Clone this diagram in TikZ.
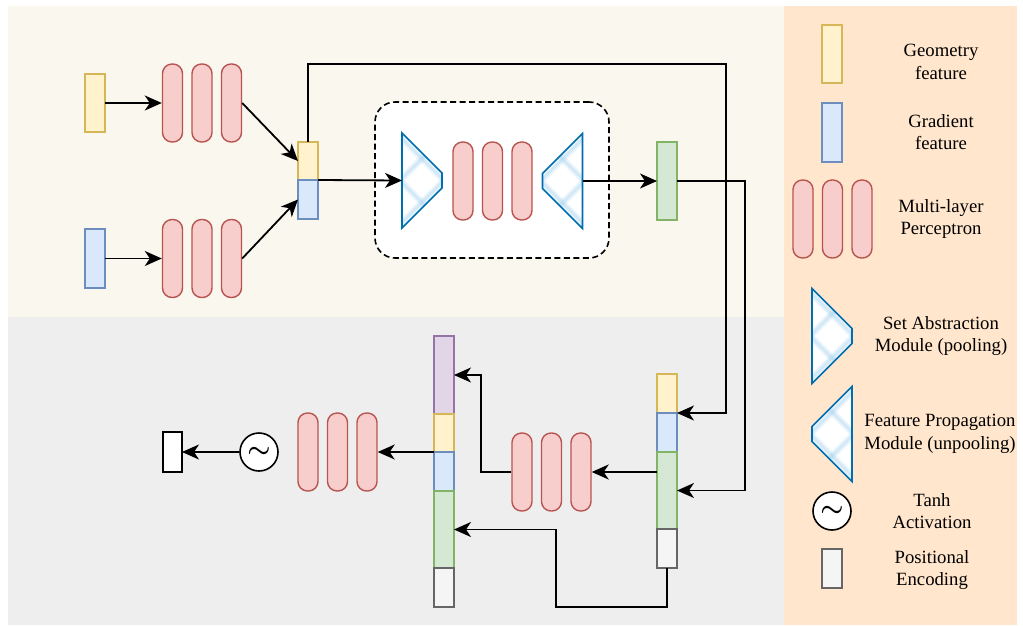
\documentclass[tikz,border=0pt]{standalone}
\usepackage{fontspec}
\setmainfont{Liberation Serif}
\usetikzlibrary{arrows.meta}

\definecolor{creambg}{HTML}{F9F7EE}
\definecolor{graybg}{HTML}{EEEEEE}
\definecolor{legendbg}{HTML}{FFE6CC}
\definecolor{yfill}{HTML}{FFF2CC}\definecolor{ydraw}{HTML}{D6B656}
\definecolor{bfill}{HTML}{DAE8FC}\definecolor{bdraw}{HTML}{6C8EBF}
\definecolor{gfill}{HTML}{D5E8D4}\definecolor{gdraw}{HTML}{82B366}
\definecolor{pfill}{HTML}{E1D5E7}\definecolor{pdraw}{HTML}{9673A6}
\definecolor{wfill}{HTML}{F5F5F5}\definecolor{wdraw}{HTML}{666666}
\definecolor{rfill}{HTML}{F8CECC}\definecolor{rdraw}{HTML}{B85450}
\definecolor{tblue}{HTML}{006EAF}
\definecolor{hatchblue}{HTML}{9FD0EE}

% soft blue cross-hatching inside the pooling / unpooling shapes
\newcommand\hatchlines{%
  \foreach \d in {-110,-66,...,110}{%
    \draw[hatchblue, line width=7pt, opacity=0.2] (\d-60,-60) -- (\d+60,60);
    \draw[hatchblue, line width=7pt, opacity=0.2] (\d-60,60) -- (\d+60,-60);
    \draw[hatchblue, line width=3pt, opacity=0.3] (\d-60,-60) -- (\d+60,60);
    \draw[hatchblue, line width=3pt, opacity=0.3] (\d-60,60) -- (\d+60,-60);
  }}

\tikzset{
  block/.style={draw, line width=1.4pt, minimum width=20pt, inner sep=0pt, outer sep=0pt},
  geo/.style={block, fill=yfill, draw=ydraw},
  grad/.style={block, fill=bfill, draw=bdraw},
  lat/.style={block, fill=gfill, draw=gdraw},
  mix/.style={block, fill=pfill, draw=pdraw},
  posblock/.style={block, fill=wfill, draw=wdraw},
  outbox/.style={block, fill=white, draw=black, minimum width=19pt, line width=1.6pt},
  pill/.style={draw=rdraw, fill=rfill, line width=1.4pt, minimum width=20pt,
    minimum height=78pt, rounded corners=9.5pt, inner sep=0pt},
  tanhnode/.style={circle, draw=black, fill=white, line width=1.6pt,
    minimum size=38pt, inner sep=0pt},
  link/.style={line width=1.8pt, -{Stealth[length=17pt,width=15pt,inset=5pt]}},
  legendtext/.style={align=center, font=\fontsize{18.7}{22.4}\selectfont, inner sep=0pt},
  sapic/.pic={
    \begin{scope}
      \clip (-20,-47.5) -- (20,-7.5) -- (20,7.5) -- (-20,47.5) -- cycle;
      \fill[white] (-25,-50) rectangle (25,50);
      \hatchlines
    \end{scope}
    \draw[tblue, line width=1.6pt] (-20,-47.5) -- (20,-7.5) -- (20,7.5) -- (-20,47.5) -- cycle;
    \coordinate (-w) at (-20,0);
    \coordinate (-e) at (20,0);
  },
  fppic/.pic={
    \begin{scope}
      \clip (20,-47.5) -- (-20,-7.5) -- (-20,7.5) -- (20,47.5) -- cycle;
      \fill[white] (-25,-50) rectangle (25,50);
      \hatchlines
    \end{scope}
    \draw[tblue, line width=1.6pt] (20,-47.5) -- (-20,-7.5) -- (-20,7.5) -- (20,47.5) -- cycle;
    \coordinate (-w) at (-20,0);
    \coordinate (-e) at (20,0);
  },
}

\newcommand\mlp[3]{% name prefix, x of first pill, y
  \node[pill] (#1a) at (#2,#3) {};
  \node[pill] (#1b) at (#2+29.5,#3) {};
  \node[pill] (#1c) at (#2+59,#3) {};
}
\newcommand\tanhsym{\scalebox{2.6}{\boldmath$\sim$}}

\begin{document}
\begin{tikzpicture}[x=1pt,y=-1pt]
\useasboundingbox (0,0) rectangle (1023,625);

% panels
\fill[creambg] (8,6) rectangle (784,317);
\fill[graybg] (8,317) rectangle (784,625);
\fill[legendbg] (784,6) rectangle (1017,625);

% ---------- encoder ----------
\node[geo, minimum height=58pt] (gin) at (95,103) {};
\node[grad, minimum height=59pt] (din) at (95,258.5) {};
\mlp{ma}{172.5}{103}
\mlp{mb}{172.5}{258.5}

\node[geo, minimum height=38pt] (cy) at (308,161) {};
\node[grad, minimum height=39pt] (cb) at (308,199.5) {};

\draw[link] (gin.east) -- (maa.west);
\draw[link] (din.east) -- (mba.west);
\draw[link] (mac.east) -- (cy.west);
\draw[link] (mbc.east) -- (cb.west);

% point-net block
\node[draw, dashed, dash pattern=on 6pt off 3.5pt, line width=1.6pt, fill=white,
  rounded corners=20pt, minimum width=234pt, minimum height=156pt] (pnet) at (492,180) {};
\pic (sa) at (422,180.5) {sapic};
\mlp{mc}{463}{181}
\pic (fp) at (562.5,181) {fppic};

\node[lat, minimum height=78pt] (gm) at (667,181) {};

\draw[link] (cy.south east) -- (sa-w);
\draw[link] (fp-e) -- (gm.west);

% ---------- decoder ----------
\node[geo, minimum height=39pt] (ry) at (667,393.5) {};
\node[grad, minimum height=39pt] (rb) at (667,432.5) {};
\node[lat, minimum height=77pt] (rg) at (667,490.5) {};
\node[posblock, minimum height=39pt] (rw) at (667,548.5) {};

\node[mix, minimum height=78pt] (lp) at (444,375) {};
\node[geo, minimum height=38pt] (ly) at (444,433) {};
\node[grad, minimum height=39pt] (lb) at (444,471.5) {};
\node[lat, minimum height=77pt] (lg) at (444,529.5) {};
\node[posblock, minimum height=39pt] (lw) at (444,587.5) {};

\mlp{md}{522}{472}
\mlp{me}{308}{452}

\node[tanhnode] (th) at (259,452) {\tanhsym};
\node[outbox, minimum height=40pt] (out) at (172.5,452) {};

\coordinate (t1) at (726,64);
\coordinate (t2) at (745,181);
\coordinate (t3) at (481,375);
\coordinate (t4) at (556,607);

\draw[link] (cy.north) |- (t1) |- (ry.south east);
\draw[link] (gm.east) -- (t2) |- (rg.east);
\draw[link] (mdc.east -| rg.west) -- (mdc.east);
\draw[link] (mda.west) -| (t3) -- (lp.east);
\draw[link] (rw.south) |- (t4) |- (lg.east);
\draw[link] (ly.south west) -- (mec.east);
\draw[link] (th.west) -- (out.east);

% ---------- legend ----------
\node[geo, minimum height=58pt] (lgeo) at (832,54) {};
\node[legendtext] (tgeo) at (941,62) {Geometry\\feature};
\node[grad, minimum height=59pt] (lgrad) at (832,132.5) {};
\node[legendtext] (tgrad) at (941,132) {Gradient\\feature};
\mlp{lm}{803}{219}
\node[legendtext] (tmlp) at (941,219) {Multi-layer\\Perceptron};
\pic (lsa) at (832,336) {sapic};
\node[legendtext] (tsa) at (941,336) {Set Abstraction\\Module (pooling)};
\pic (lfp) at (832,434) {fppic};
\node[legendtext] (tfp) at (940,434) {Feature Propagation\\Module (unpooling)};
\node[tanhnode] (lth) at (832,511) {\tanhsym};
\node[legendtext] (tth) at (932,511) {Tanh\\Activation};
\node[posblock, minimum height=39pt] (lpos) at (832,568.5) {};
\node[legendtext] (tpos) at (932,570) {Positional\\Encoding};

\end{tikzpicture}
\end{document}
